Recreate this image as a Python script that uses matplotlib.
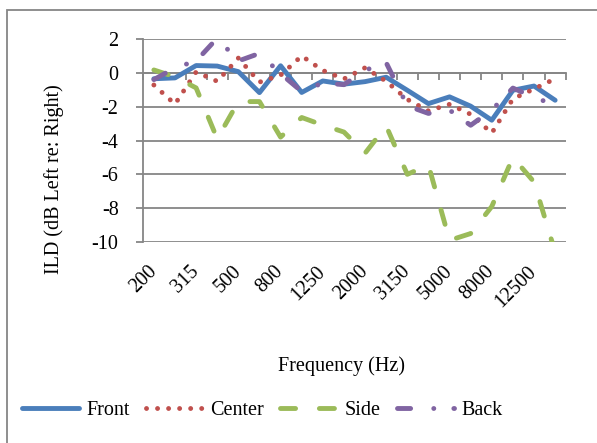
import numpy as np
import matplotlib.pyplot as plt
from matplotlib.patches import Rectangle

plt.rcParams['font.family'] = 'Liberation Serif'
plt.rcParams['axes.unicode_minus'] = False

# 1/3 octave bands
freqs = ['200', '250', '315', '400', '500', '630', '800', '1000', '1250', '1600',
         '2000', '2500', '3150', '4000', '5000', '6300', '8000', '10000', '12500', '16000']

# ILD values
front = [-0.35, -0.3, 0.43, 0.4, 0.07, -1.17, 0.42, -1.16, -0.48, -0.67,
         -0.52, -0.26, -1.03, -1.82, -1.42, -1.97, -2.8, -1.03, -0.78, -1.62]
center = [-0.72, -1.85, 0.05, -0.5, 0.87, -0.55, -0.14, 1.0, 0.14, -0.36,
          0.3, -0.5, -1.57, -2.25, -1.86, -2.45, -3.56, -1.54, -0.95, -0.35]
side = [0.17, -0.24, -0.89, -3.9, -1.7, -1.7, -3.8, -2.64, -3.09, -3.5,
        -4.75, -3.14, -6.0, -5.45, -9.9, -9.5, -7.9, -5.0, -6.45, -10.6]
back = [-0.4, 0.3, 0.7, 2.05, 0.7, 1.15, -0.05, -1.1, -0.6, -0.7,
        0.15, 0.6, -1.95, -2.4, -2.2, -3.1, -2.2, -0.9, -1.45, -1.9]

grey = '#868686'
fs = 14.5
lw = 3.5

x = np.arange(len(freqs))

fig = plt.figure(figsize=(5.97, 4.43), dpi=100)
ax = fig.add_axes([143.3/597, 1-242/443, (565.7-143.3)/597, (242-39)/443])

ax.plot(x, front, color='#4A7EBB', lw=lw, solid_capstyle='round', solid_joinstyle='round',
        label='Front', zorder=3)
ax.plot(x, center, color='#C0504D', lw=lw, dashes=(0.01, 2.26), dash_capstyle='round',
        dash_joinstyle='round', label='Center', zorder=4)
ax.plot(x, side, color='#9BBB59', lw=lw, dashes=(3.1, 4.9), dash_capstyle='round',
        dash_joinstyle='round', label='Side', zorder=5)
ax.plot(x, back, color='#8064A2', lw=lw, dashes=(2.7, 4.76, 0.01, 4.12), dash_capstyle='round',
        dash_joinstyle='round', label='Back', zorder=6)

ax.set_xlim(-0.5, len(freqs) - 0.5)
ax.set_ylim(-10, 2)
ax.set_yticks(np.arange(-10, 3, 2))
ax.grid(axis='y', color=grey, lw=1.3)
ax.set_axisbelow(True)

ax.spines['top'].set_visible(False)
ax.spines['right'].set_visible(False)
ax.spines['left'].set_color(grey)
ax.spines['left'].set_linewidth(1.3)
ax.spines['bottom'].set_position(('data', 0))
ax.spines['bottom'].set_color(grey)
ax.spines['bottom'].set_linewidth(1.3)

# category axis crosses at 0, tick marks between categories
ax.set_xticks([])
ax.set_xticks(np.arange(-0.5, len(freqs), 1), minor=True)
ax.tick_params(axis='x', which='minor', length=4.8, width=1.3, color=grey, direction='out')
ax.tick_params(axis='y', length=4.8, width=1.3, color=grey, pad=13, labelsize=fs)

# labels sit under the plot area
sec = ax.secondary_xaxis('bottom')
sec.set_xticks(x[::2], labels=freqs[::2], rotation=45, ha='right', va='center',
               rotation_mode='anchor')
sec.tick_params(length=0, pad=19.4, labelsize=fs)
for s in sec.spines.values():
    s.set_visible(False)

fig.text(54/597, 1-179/443, 'ILD (dB Left re: Right)', rotation=90, ha='center', va='center', fontsize=fs)
fig.text(342/597, 1-366/443, 'Frequency (Hz)', ha='center', va='center', fontsize=fs)

fig.legend(loc='center left', bbox_to_anchor=(22/597, 1-410/443), ncol=4, frameon=False,
           fontsize=fs, handlelength=2.85, handletextpad=0.35, columnspacing=0.8,
           borderpad=0, borderaxespad=0)

fig.add_artist(Rectangle((7/597, -0.5), 2, 0.5 + 1-10/443, transform=fig.transFigure,
                         fill=False, edgecolor=grey, lw=1.3))

fig.savefig('out.png', dpi=100)
